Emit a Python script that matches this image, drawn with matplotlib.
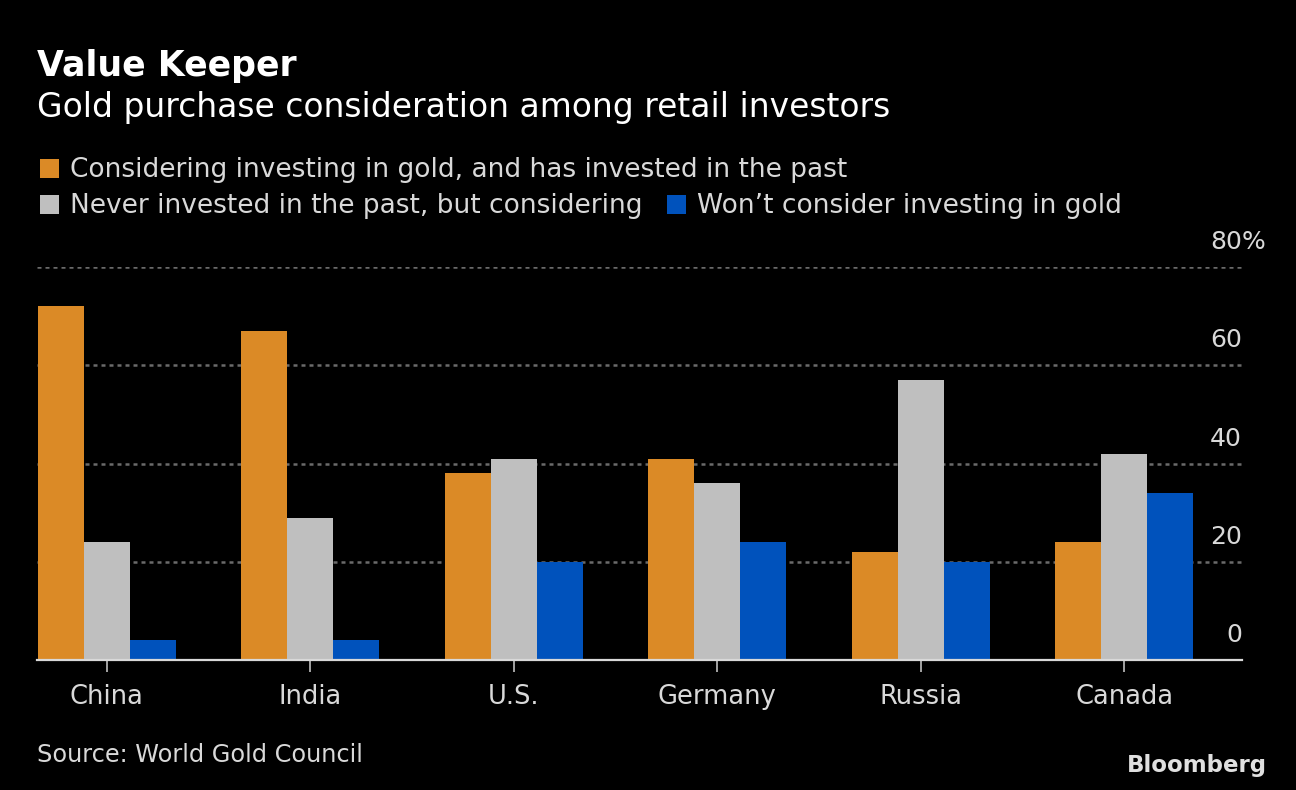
import numpy as np
import matplotlib.pyplot as plt
from matplotlib.patches import Rectangle

# Daten
countries = ['China', 'India', 'U.S.', 'Germany', 'Russia', 'Canada']
invested_before = [72, 67, 38, 41, 22, 24]
never_invested = [24, 29, 41, 36, 57, 42]
wont_consider = [4, 4, 20, 24, 20, 34]
series_names = ['Considering investing in gold, and has invested in the past',
                'Never invested in the past, but considering',
                'Won\u2019t consider investing in gold']
y_ticks = [0, 20, 40, 60, 80]

orange = '#DB8A26'
grey = '#BFBFBF'
blue = '#0052BC'
colors = [orange, grey, blue]

W, H = 1296, 790
fig = plt.figure(figsize=(W / 100, H / 100), dpi=100, facecolor='black')

def fx(px):
    return px / W

def fy(py):
    return 1 - py / H

ax = fig.add_axes([fx(37), fy(660), fx(1242) - fx(37), fy(267) - fy(660)])
ax.set_facecolor('black')

x = np.arange(len(countries))
bw = 0.226
for i, vals in enumerate([invested_before, never_invested, wont_consider]):
    ax.bar(x + (i - 1) * bw, vals, width=bw, color=colors[i], linewidth=0, zorder=3)

ax.set_xlim(-0.342, 5.578)
ax.set_ylim(0, 80)

#Gitterlinien
for t in y_ticks[1:]:
    ax.axhline(t, color='#6a6a6a', lw=1.8, linestyle=(0, (1.6, 1.6)), zorder=1)

ax.set_yticks([])
for t in y_ticks:
    ax.text(1.0, t + 18 / 4.9125, str(t), transform=ax.get_yaxis_transform(),
            ha='right', va='baseline', color='#d9d9d9', fontsize=18, clip_on=False)
ax.text(1.0, 80 + 18 / 4.9125, '%', transform=ax.get_yaxis_transform(),
        ha='left', va='baseline', color='#d9d9d9', fontsize=18, clip_on=False)

ax.set_xticks(x)
ax.set_xticklabels(countries, fontsize=18.5, color='#d9d9d9')
ax.tick_params(axis='x', length=8.6, width=1.2, color='#bfbfbf', pad=9)

for s in ['top', 'left', 'right']:
    ax.spines[s].set_visible(False)
ax.spines['bottom'].set_color('#d9d9d9')
ax.spines['bottom'].set_linewidth(1.6)
ax.spines['bottom'].set_zorder(4)

# Titel
fig.text(fx(37), fy(76), 'Value Keeper', fontsize=25, fontweight='bold',
         color='white', va='baseline', ha='left')
fig.text(fx(37), fy(117), 'Gold purchase consideration among retail investors',
         fontsize=23.7, color='white', va='baseline', ha='left')

# Legende
legend_pos = [(40, 177), (40, 213), (667, 213)]
for i, (lx, ly) in enumerate(legend_pos):
    fig.add_artist(Rectangle((fx(lx), fy(ly + 1)), fx(19), 19 / H,
                             transform=fig.transFigure, color=colors[i], lw=0))
    fig.text(fx(lx + 30), fy(ly), series_names[i], fontsize=19, color='#d9d9d9',
             va='baseline', ha='left')

fig.text(fx(37), fy(762), 'Source: World Gold Council', fontsize=17.3,
         color='#d9d9d9', va='baseline', ha='left')
fig.text(fx(1267), fy(772), 'Bloomberg', fontsize=16.5, fontweight='bold',
         color='#e0e0e0', va='baseline', ha='right')

plt.savefig('out.png', dpi=100, facecolor='black')
